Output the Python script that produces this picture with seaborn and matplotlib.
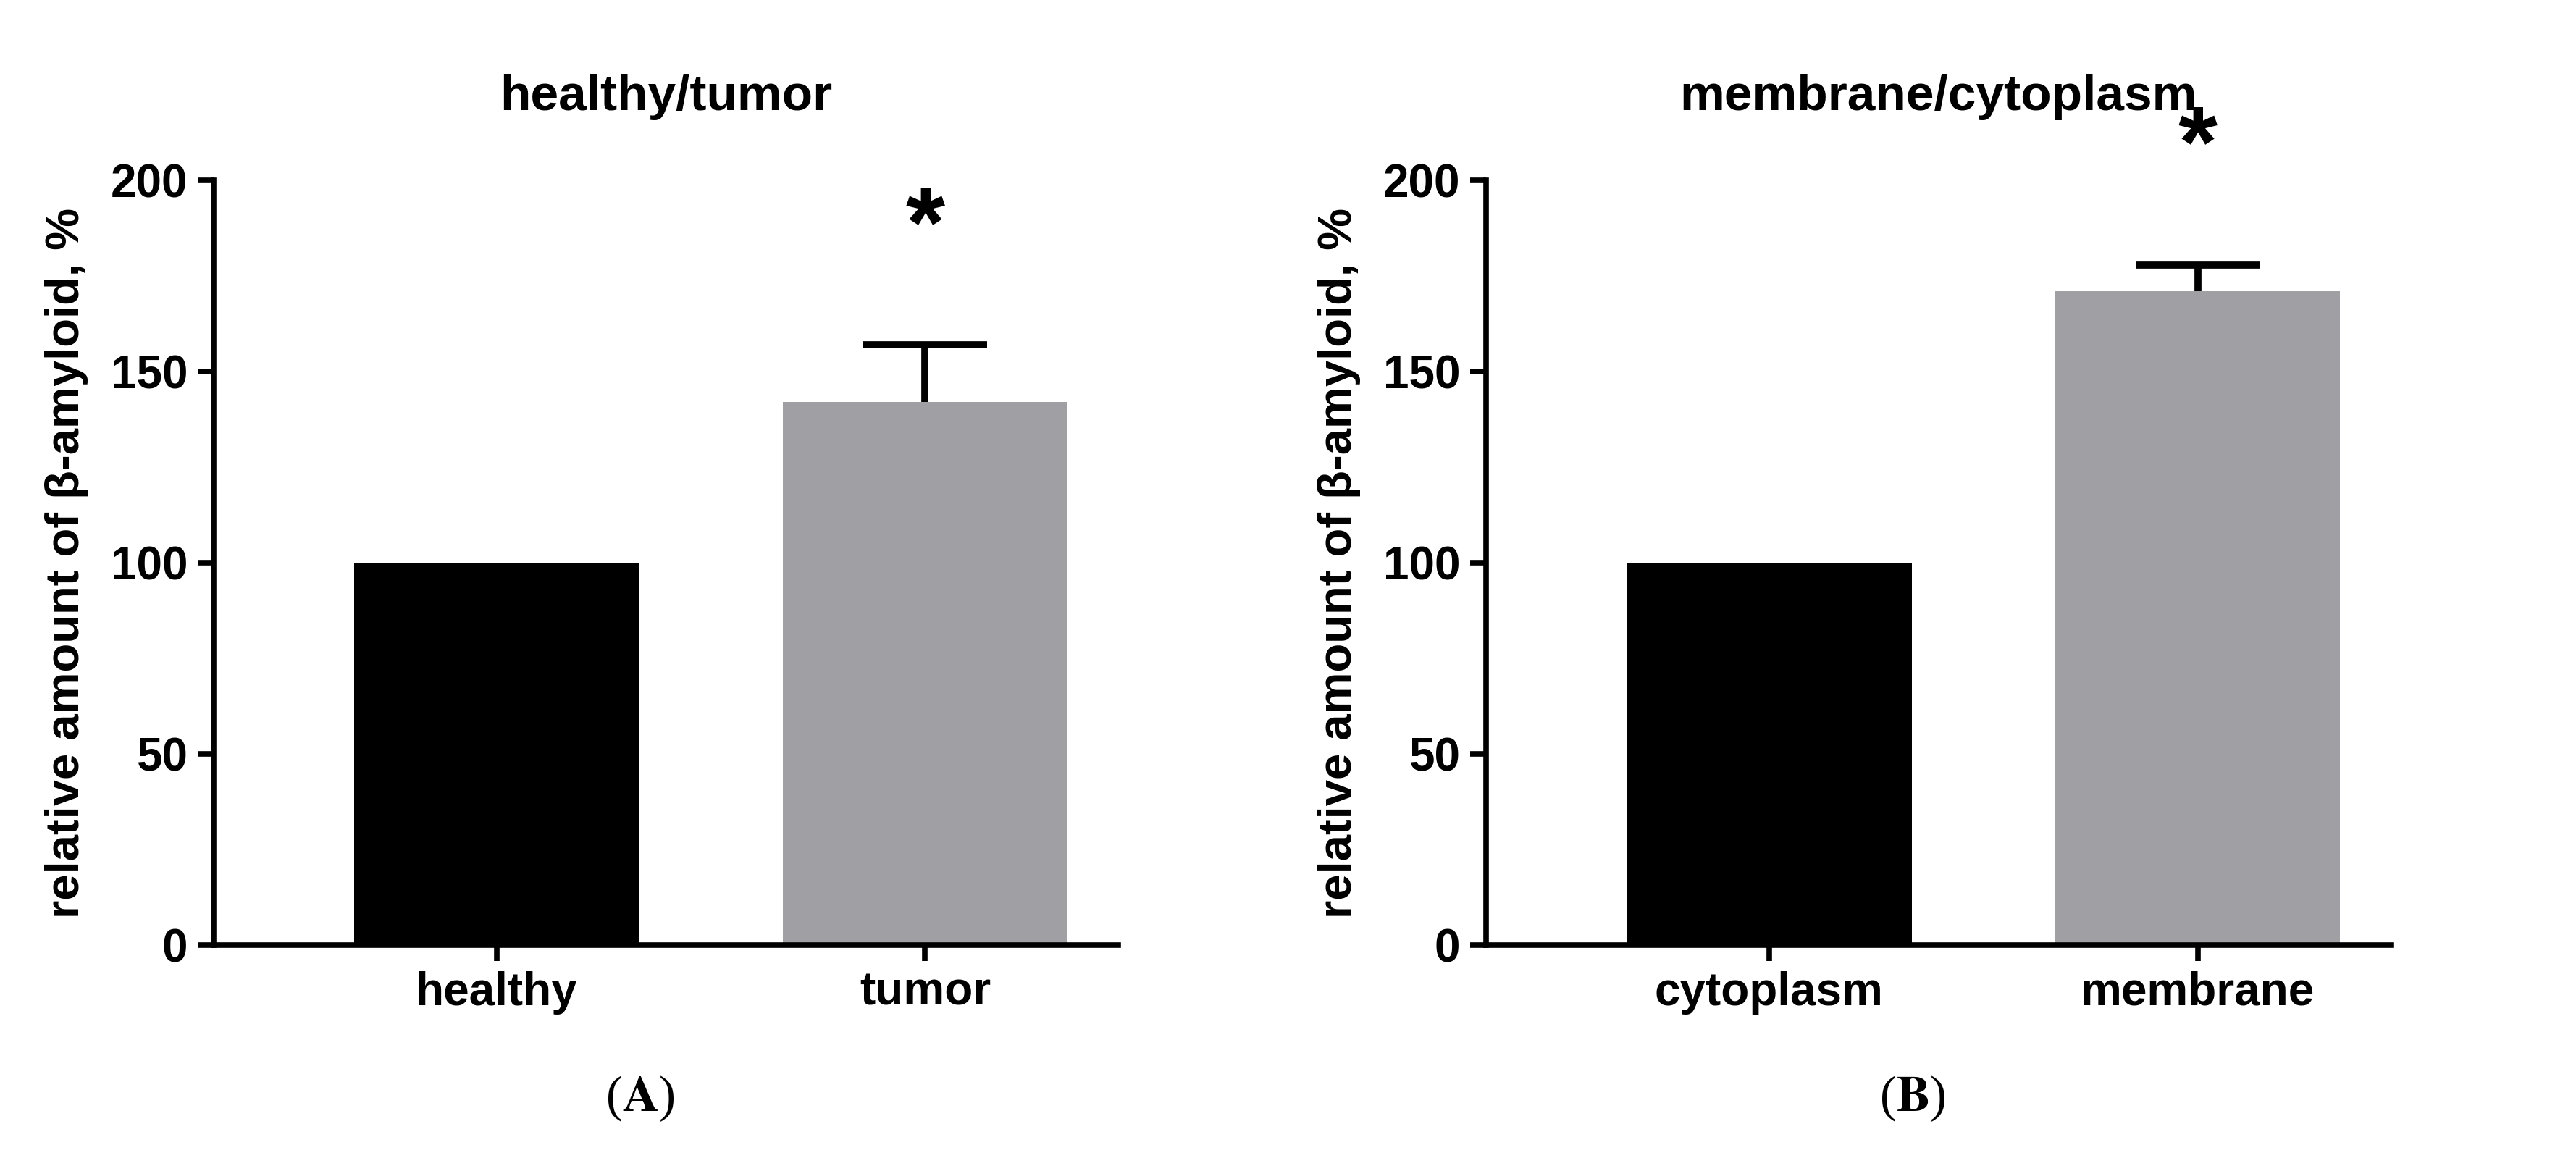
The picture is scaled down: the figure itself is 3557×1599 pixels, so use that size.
import matplotlib
matplotlib.use("Agg")
import matplotlib.pyplot as plt
import seaborn as sns
import pandas as pd

titles = ["healthy/tumor", "membrane/cytoplasm"]
cats_a = ["healthy", "tumor"]
vals_a = [100, 142]
err_a = [0, 15]
cats_b = ["cytoplasm", "membrane"]
vals_b = [100, 171]
err_b = [0, 7]
panel_labels = ["A", "B"]
colors = ["#000000", "#a0a0a4"]

sns.set_theme(style="ticks")
plt.rcParams['font.family'] = ['Liberation Sans', 'DejaVu Sans']
plt.rcParams['mathtext.fontset'] = 'stix'
plt.rcParams['text.color'] = 'black'
plt.rcParams['axes.labelcolor'] = 'black'
plt.rcParams['xtick.color'] = 'black'
plt.rcParams['ytick.color'] = 'black'
plt.rcParams['axes.edgecolor'] = 'black'

fig = plt.figure(figsize=(35.57, 15.99), dpi=100)
axes = [fig.add_axes([0.083, 0.184, 0.351, 0.66]),
        fig.add_axes([0.577, 0.184, 0.351, 0.66])]

for ax, title, cats, vals, errs, pl in zip(axes, titles, [cats_a, cats_b], [vals_a, vals_b], [err_a, err_b], panel_labels):
    df = pd.DataFrame({"cat": cats, "val": vals})
    sns.barplot(data=df, x="cat", y="val", hue="cat", palette=colors, width=0.665,
                legend=False, ax=ax, saturation=1, edgecolor="none")
    for i, (v, e) in enumerate(zip(vals, errs)):
        if e > 0:
            ax.vlines(i, v, v + e, color="black", linewidth=7, zorder=3)
            ax.hlines(v + e, i - 0.145, i + 0.145, color="black", linewidth=7, zorder=3)
            ax.text(i, v + e + 30, "*", ha="center", va="center", fontsize=100, fontweight="bold")
    ax.set_xlim(-0.66, 1.45)
    ax.set_ylim(0, 200)
    ax.set_yticks([0, 50, 100, 150, 200])
    ax.set_xlabel("")
    ax.set_ylabel("relative amount of β-amyloid, %", fontsize=47, fontweight="bold", labelpad=22)
    ax.set_title(title, fontsize=50, fontweight="bold", pad=70)
    for s in ["top", "right"]:
        ax.spines[s].set_visible(False)
    for s in ["left", "bottom"]:
        ax.spines[s].set_linewidth(5.5)
    ax.tick_params(axis="both", width=5.5, length=16, labelsize=46, pad=10)
    for lab in ax.get_xticklabels() + ax.get_yticklabels():
        lab.set_fontweight("bold")
    pos = ax.get_position()
    fig.text((pos.x0 + pos.x1) / 2 - 0.01, 0.03, r"($\mathbf{%s}$)" % pl, ha="center", va="bottom",
             fontsize=50, family="Liberation Serif")

fig.savefig("out.png", dpi=100)
